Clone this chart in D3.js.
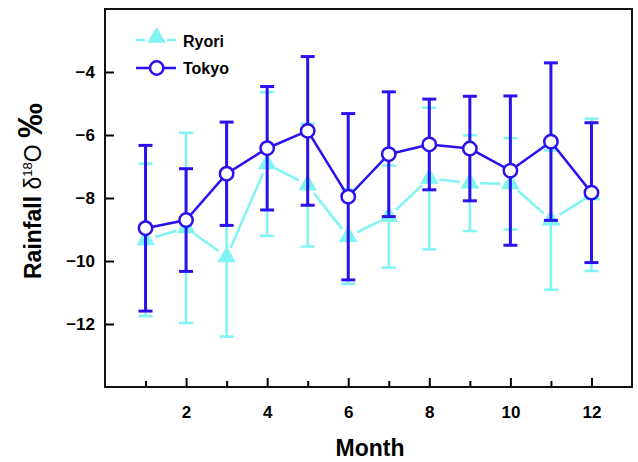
<!DOCTYPE html>
<html>
<head>
<meta charset="utf-8">
<script src="https://cdn.jsdelivr.net/npm/d3@7"></script>
<style>
html,body{margin:0;padding:0;background:#fff;}
svg{display:block;font-family:"Liberation Sans",Arial,sans-serif;}
</style>
</head>
<body>
<svg id="chart" width="638" height="462"></svg>
<script>
const months = [1,2,3,4,5,6,7,8,9,10,11,12];
const ryoriMean = [-9.33,-8.95,-9.87,-6.92,-7.59,-9.23,-8.59,-7.38,-7.53,-7.55,-8.70,-7.90];
const ryoriErr  = [2.42,3.02,2.53,2.28,1.95,1.50,1.62,2.25,1.52,1.45,2.21,2.42];
const tokyoMean = [-8.96,-8.70,-7.23,-6.42,-5.87,-7.96,-6.61,-6.30,-6.43,-7.13,-6.21,-7.83];
const tokyoErr  = [2.63,1.63,1.64,1.96,2.36,2.64,1.98,1.44,1.66,2.37,2.50,2.22];
const yTicks = [-12,-10,-8,-6,-4];
const xTickLabels = [2,4,6,8,10,12];
const seriesNames = ["Ryori","Tokyo"];

const cyan = "#80f3f3", blue = "#2a12ee";
const svg = d3.select("#chart");
const L = 105, R = 632, T = 9, B = 387;
const x = d3.scaleLinear().domain([0,13]).range([L,R]);
const y = d3.scaleLinear().domain([-14,-2]).range([B,T]);

// axes ticks (inward)
const yAxis = d3.axisLeft(y).tickValues(yTicks).tickSize(-9).tickPadding(11).tickFormat(d3.format("d"));
const gy = svg.append("g").attr("transform",`translate(${L},0)`).call(yAxis);
gy.select(".domain").remove();
gy.selectAll("line").attr("stroke","#000").attr("stroke-width",2);
gy.selectAll("text").attr("font-size",17).attr("font-weight","bold").attr("fill","#000").attr("dx",1);

const xAxis = d3.axisBottom(x).tickValues(months).tickSize(0).tickPadding(0).tickFormat(d => xTickLabels.includes(d) ? d : "");
const gx = svg.append("g").attr("transform",`translate(0,${B})`).call(xAxis);
gx.select(".domain").remove();
gx.selectAll(".tick line").attr("stroke","#000").attr("stroke-width",2)
  .attr("y1",0).attr("y2",d => d%2===0 ? -9 : -6);
gx.selectAll("text").attr("font-size",17).attr("font-weight","bold").attr("fill","#000").attr("dy",0).attr("y",31);

// frame
svg.append("rect").attr("x",L).attr("y",T).attr("width",R-L).attr("height",B-T)
  .attr("fill","none").attr("stroke","#111").attr("stroke-width",2);

// labels
svg.append("text").attr("x",370).attr("y",456).attr("text-anchor","middle")
  .attr("font-size",23).attr("font-weight","bold").text("Month");
const yl = svg.append("text").attr("transform","translate(41,191) rotate(-90)").attr("text-anchor","middle")
  .attr("font-size",23).attr("font-weight","bold");
yl.append("tspan").text("Rainfall ");
yl.append("tspan").attr("font-weight","normal").text("δ");
yl.append("tspan").attr("font-weight","normal").attr("font-size",13).attr("dy",-9).text("18");
yl.append("tspan").attr("font-weight","normal").attr("dy",9).text("O ");
yl.append("tspan").attr("font-size",35).attr("dy",1).text("‰");

const tri = d3.symbol(d3.symbolTriangle, 150);
const cap = 7;

// Ryori
const rData = months.map((m,i)=>({m, v:ryoriMean[i], e:ryoriErr[i]}));
const gr = svg.append("g");
for (let i=0;i<rData.length-1;i++){
  const x1=x(rData[i].m), y1=y(rData[i].v), x2=x(rData[i+1].m), y2=y(rData[i+1].v);
  const dx=x2-x1, dy=y2-y1, len=Math.hypot(dx,dy), g=10;
  gr.append("line").attr("x1",x1+dx/len*g).attr("y1",y1+dy/len*g)
    .attr("x2",x2-dx/len*g).attr("y2",y2-dy/len*g)
    .attr("stroke",cyan).attr("stroke-width",2.5);
}
rData.forEach(d=>{
  const cx=x(d.m);
  gr.append("line").attr("x1",cx).attr("x2",cx).attr("y1",y(d.v+d.e)).attr("y2",y(d.v-d.e)).attr("stroke",cyan).attr("stroke-width",2.5);
  [d.v+d.e,d.v-d.e].forEach(v=>gr.append("line").attr("x1",cx-cap).attr("x2",cx+cap).attr("y1",y(v)).attr("y2",y(v)).attr("stroke",cyan).attr("stroke-width",2.5));
});
gr.selectAll("path.pt").data(rData).join("path").attr("class","pt").attr("d",tri)
  .attr("transform",d=>`translate(${x(d.m)},${y(d.v)})`).attr("fill",cyan);

// Tokyo
const tData = months.map((m,i)=>({m, v:tokyoMean[i], e:tokyoErr[i]}));
const gt = svg.append("g");
tData.forEach(d=>{
  const cx=x(d.m);
  gt.append("line").attr("x1",cx).attr("x2",cx).attr("y1",y(d.v+d.e)).attr("y2",y(d.v-d.e)).attr("stroke",blue).attr("stroke-width",3);
  [d.v+d.e,d.v-d.e].forEach(v=>gt.append("line").attr("x1",cx-cap).attr("x2",cx+cap).attr("y1",y(v)).attr("y2",y(v)).attr("stroke",blue).attr("stroke-width",3));
});
gt.append("path").datum(tData).attr("d",d3.line().x(d=>x(d.m)).y(d=>y(d.v)))
  .attr("fill","none").attr("stroke",blue).attr("stroke-width",2.5);
gt.selectAll("circle").data(tData).join("circle").attr("cx",d=>x(d.m)).attr("cy",d=>y(d.v)).attr("r",6.7)
  .attr("fill","#fff").attr("stroke",blue).attr("stroke-width",2.5);

// legend
const lg = svg.append("g");
lg.append("line").attr("x1",136).attr("x2",145).attr("y1",40).attr("y2",40).attr("stroke",cyan).attr("stroke-width",2.5);
lg.append("line").attr("x1",167).attr("x2",176).attr("y1",40).attr("y2",40).attr("stroke",cyan).attr("stroke-width",2.5);
lg.append("path").attr("d",tri).attr("transform","translate(156.5,37.5)").attr("fill",cyan);
lg.append("line").attr("x1",136).attr("x2",176).attr("y1",68).attr("y2",68).attr("stroke",blue).attr("stroke-width",2.5);
lg.append("circle").attr("cx",156.7).attr("cy",68).attr("r",6.7).attr("fill","#fff").attr("stroke",blue).attr("stroke-width",2.5);
lg.append("text").attr("x",183).attr("y",46.5).attr("font-size",16).attr("font-weight","bold").text(seriesNames[0]);
lg.append("text").attr("x",183).attr("y",74).attr("font-size",16).attr("font-weight","bold").text(seriesNames[1]);
</script>
</body>
</html>
